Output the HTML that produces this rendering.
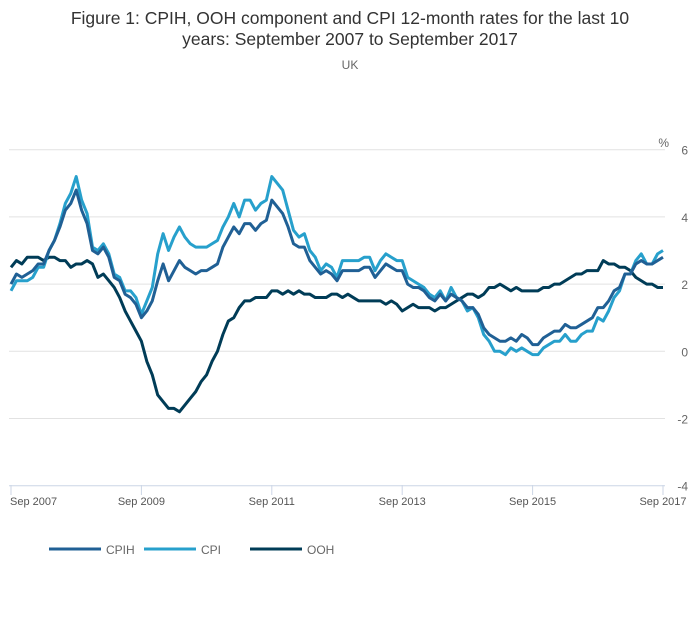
<!DOCTYPE html>
<html><head><meta charset="utf-8"><style>
body{margin:0;background:#fff;font-family:"Liberation Sans",sans-serif;}
svg text{font-family:"Liberation Sans",sans-serif;}
</style></head><body>
<svg width="700" height="635" viewBox="0 0 700 635">
<text x="350" y="24" text-anchor="middle" font-size="17.5" fill="#333">Figure 1: CPIH, OOH component and CPI 12-month rates for the last 10</text>
<text x="350" y="45" text-anchor="middle" font-size="17.5" fill="#333">years: September 2007 to September 2017</text>
<text x="350" y="69" text-anchor="middle" font-size="12" fill="#666">UK</text>
<g id="grid"></g>
<g id="series"></g>
<g id="legend"></g>
</svg>
<script>
const xTickLabels = ["Sep 2007","Sep 2009","Sep 2011","Sep 2013","Sep 2015","Sep 2017"];
const yTicks = [6,4,2,0,-2,-4];
const cpih = [2.0,2.3,2.2,2.3,
2.4,2.6,2.6,3.0,3.3,3.7,4.2,4.4,4.8,4.2,3.8,3.0,
2.9,3.1,2.8,2.2,2.1,1.7,1.6,1.4,1.0,1.2,1.5,2.1,
2.6,2.1,2.4,2.7,2.5,2.4,2.3,2.4,2.4,2.5,2.6,3.1,
3.4,3.7,3.5,3.8,3.8,3.6,3.8,3.9,4.5,4.3,4.1,3.7,
3.2,3.1,3.1,2.7,2.5,2.3,2.4,2.3,2.1,2.4,2.4,2.4,
2.4,2.5,2.5,2.2,2.4,2.6,2.5,2.4,2.4,2.0,1.9,1.9,
1.8,1.6,1.5,1.7,1.5,1.7,1.6,1.5,1.3,1.3,1.1,0.7,
0.5,0.4,0.3,0.3,0.4,0.3,0.5,0.4,0.2,0.2,0.4,0.5,
0.6,0.6,0.8,0.7,0.7,0.8,0.9,1.0,1.3,1.3,1.5,1.8,
1.9,2.3,2.3,2.6,2.7,2.6,2.6,2.7,2.8];
const cpi = [1.8,2.1,2.1,2.1,
2.2,2.5,2.5,3.0,3.3,3.8,4.4,4.7,5.2,4.5,4.1,3.1,
3.0,3.2,2.9,2.3,2.2,1.8,1.8,1.6,1.1,1.5,1.9,2.9,
3.5,3.0,3.4,3.7,3.4,3.2,3.1,3.1,3.1,3.2,3.3,3.7,
4.0,4.4,4.0,4.5,4.5,4.2,4.4,4.5,5.2,5.0,4.8,4.2,
3.6,3.4,3.5,3.0,2.8,2.4,2.6,2.5,2.2,2.7,2.7,2.7,
2.7,2.8,2.8,2.4,2.7,2.9,2.8,2.7,2.7,2.2,2.1,2.0,
1.9,1.7,1.6,1.8,1.5,1.9,1.6,1.5,1.2,1.3,1.0,0.5,
0.3,0.0,0.0,-0.1,0.1,0.0,0.1,0.0,-0.1,-0.1,0.1,0.2,
0.3,0.3,0.5,0.3,0.3,0.5,0.6,0.6,1.0,0.9,1.2,1.6,
1.8,2.3,2.3,2.7,2.9,2.6,2.6,2.9,3.0];
const ooh = [2.5,2.7,2.6,2.8,
2.8,2.8,2.7,2.8,2.8,2.7,2.7,2.5,2.6,2.6,2.7,2.6,
2.2,2.3,2.1,1.9,1.6,1.2,0.9,0.6,0.3,-0.3,-0.7,-1.3,
-1.5,-1.7,-1.7,-1.8,-1.6,-1.4,-1.2,-0.9,-0.7,-0.3,0.0,0.5,
0.9,1.0,1.3,1.5,1.5,1.6,1.6,1.6,1.8,1.8,1.7,1.8,
1.7,1.8,1.7,1.7,1.6,1.6,1.6,1.7,1.7,1.6,1.7,1.6,
1.5,1.5,1.5,1.5,1.5,1.4,1.5,1.4,1.2,1.3,1.4,1.3,
1.3,1.3,1.2,1.3,1.3,1.4,1.5,1.6,1.7,1.7,1.6,1.7,
1.9,1.9,2.0,1.9,1.8,1.9,1.8,1.8,1.8,1.8,1.9,1.9,
2.0,2.0,2.1,2.2,2.3,2.3,2.4,2.4,2.4,2.7,2.6,2.6,
2.5,2.5,2.4,2.2,2.1,2.0,2.0,1.9,1.9];
const seriesNames = ["CPIH","CPI","OOH"];

const NS="http://www.w3.org/2000/svg";
const X0=11, X1=663, Y0=351.3, PX=33.6;
const xs = i => X0 + i*(X1-X0)/120;
const ys = v => Y0 - v*PX;
function mk(tag, attrs, parent){const e=document.createElementNS(NS,tag);for(const k in attrs)e.setAttribute(k,attrs[k]);parent.appendChild(e);return e;}
const grid=document.getElementById('grid');
yTicks.forEach(v=>{
  const l=mk('line',{x1:9,x2:665,y1:ys(v),y2:ys(v),stroke:v===-4?'#ccd6e6':'#e2e2e2','stroke-width':1},grid);
  
  
  const t=mk('text',{x:688,y:ys(v)+5,'text-anchor':'end','font-size':12,fill:'#666'},grid);
  t.textContent=String(v);
  
  
});
const pct=mk('text',{x:669,y:147,'text-anchor':'end','font-size':12,fill:'#666'},grid);
pct.textContent='%';


xTickLabels.forEach((s,i)=>{
  const x=xs(i*24);
  const tk=mk('line',{x1:x,x2:x,y1:485,y2:495,stroke:'#ccd6e6'},grid);
  
  
  const t=mk('text',{x:i===0?x-1:x,y:505,'text-anchor':i===0?'start':'middle','font-size':11,fill:'#555'},grid);
  t.textContent=s;
  
  
});
const colors=['#206095','#27a0cc','#003c57'];
const data=[cpih,cpi,ooh];
const sg=document.getElementById('series');
[2,1,0].forEach(k=>{
  const d=data[k].map((v,i)=>(i?'L':'M')+xs(i).toFixed(2)+','+ys(v).toFixed(2)).join('');
  const p=mk('path',{d:d,fill:'none',stroke:colors[k],'stroke-width':3,'stroke-linejoin':'round'},sg);
  
  
});
const lg=document.getElementById('legend');
const lx=[49,144,250];
seriesNames.forEach((n,k)=>{
  const g=mk('g',{},lg);
  
  
  mk('line',{x1:lx[k],x2:lx[k]+52,y1:549,y2:549,stroke:colors[k],'stroke-width':3},g);
  const t=mk('text',{x:lx[k]+57,y:554,'font-size':12,fill:'#666'},g);
  t.textContent=n;
});
</script>
</body></html>
